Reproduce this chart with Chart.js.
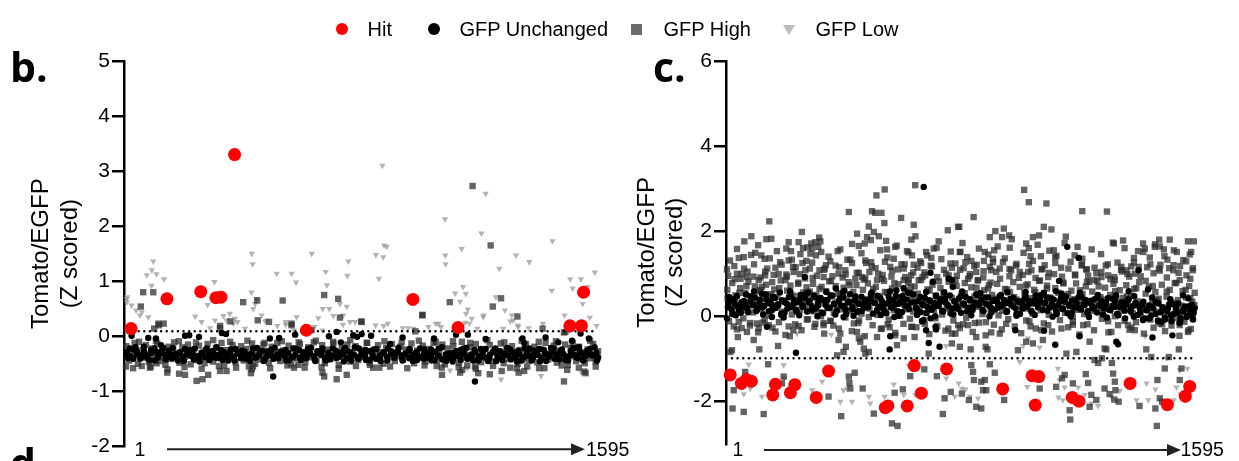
<!DOCTYPE html>
<html><head><meta charset="utf-8">
<script src="https://cdn.jsdelivr.net/npm/chart.js@4.4.1/dist/chart.umd.min.js"></script>
<style>
html,body{margin:0;padding:0;background:#fff;overflow:hidden;width:1239px;height:461px;}
#wrap{position:relative;width:1239px;height:461px;overflow:hidden;font-family:"Liberation Sans",Arial,sans-serif;color:#000;}
canvas{position:absolute;top:0;}
.lbl{position:absolute;font-family:"Open Sans",sans-serif;font-weight:700;font-size:41px;line-height:41px;}
.lg{position:absolute;font-size:20px;line-height:20px;top:19px;white-space:nowrap;}
.mk{position:absolute;}
.ax{position:absolute;font-size:19.5px;line-height:20px;top:438.5px;white-space:nowrap;}
svg{position:absolute;left:0;top:0;}
</style></head><body>
<div id="wrap">
<canvas id="cb" width="620" height="461" style="left:0px"></canvas>
<canvas id="cc" width="619" height="461" style="left:620px"></canvas>
<div class="lbl" style="left:10px;top:46px">b.</div>
<div class="lbl" style="left:653px;top:46px">c.</div>
<div class="lbl" style="left:10px;top:442px">d.</div>

<div class="mk" style="left:336px;top:23px;width:12px;height:12px;border-radius:50%;background:#ff0000"></div>
<div class="lg" style="left:367.5px">Hit</div>
<div class="mk" style="left:427.5px;top:23px;width:12px;height:12px;border-radius:50%;background:#000"></div>
<div class="lg" style="left:459.5px">GFP Unchanged</div>
<div class="mk" style="left:630.5px;top:24px;width:11px;height:11px;background:#6b6b6b"></div>
<div class="lg" style="left:663.5px">GFP High</div>
<div class="mk" style="left:782.5px;top:24.5px;width:0;height:0;border-left:6px solid transparent;border-right:6px solid transparent;border-top:10px solid #bdbdbd"></div>
<div class="lg" style="left:815.5px">GFP Low</div>

<div class="ax" style="left:134.5px" id="bFirst"></div>
<div class="ax" style="left:586px" id="bLast"></div>
<div class="ax" style="left:732.5px" id="cFirst"></div>
<div class="ax" style="left:1180.5px" id="cLast"></div>
<svg width="1239" height="461">
  <line x1="167" y1="449.3" x2="572" y2="449.3" stroke="#222" stroke-width="2"/>
  <polygon points="571,443.3 585,449.3 571,455.3" fill="#222"/>
  <line x1="764" y1="450" x2="1168" y2="450" stroke="#222" stroke-width="2"/>
  <polygon points="1167,444 1181,450 1167,456" fill="#222"/>
</svg>
</div>
<script>
// ---------- axis / tick labels ----------
const xFirst = 1, xLast = 1595;
const yTitle = ['Tomato/EGFP', '(Z scored)'];
const bTicks = [-2, -1, 0, 1, 2, 3, 4, 5];
const cTicks = [-2, 0, 2, 4, 6];
const bThreshold = 0.09;
const cThreshold = -0.99;

// ---------- panel b ----------
const bHit = [[18,0.14],[139,0.68],[253,0.81],[304,0.70],[321,0.71],[367,3.30],[609,0.11],[968,0.67],[1120,0.16],[1497,0.19],[1536,0.19],[1543,0.80]];

const bUnchanged = [
[20,0.01],[76,-0.03],[102,-0.04],[119,-0.16],[200,0.01],[214,0.02],[247,-0.01],[324,0.06],[338,0.04],[486,-0.04],[517,-0.03],[571,0.03],[685,0.00],[711,0.08],[725,-0.11],[739,-0.21],[767,0.02],[780,-0.01],[497,-0.73],[795,0.04],[827,0.01],[891,-0.14],[933,-0.02],[1039,-0.04],[1113,0.03],[1153,0.03],[1213,-0.05],[1337,-0.04],[1343,-0.12],[1415,-0.02],[1458,-0.11],[1504,-0.08],[1533,0.05],[1561,-0.04],[1527,-0.20],[1177,-0.82],
[4,-0.29],[15,-0.36],[27,-0.24],[38,-0.33],[49,-0.41],[62,-0.27],[71,-0.35],[85,-0.31],[97,-0.22],[108,-0.38],[119,-0.30],[133,-0.34],[146,-0.26],[157,-0.40],[170,-0.32],[182,-0.29],[193,-0.37],[207,-0.33],[219,-0.25],[230,-0.42],[243,-0.36],[255,-0.30],[266,-0.38],[280,-0.34],[291,-0.27],[303,-0.39],[316,-0.33],[327,-0.43],[339,-0.35],[352,-0.29],[364,-0.37],[376,-0.32],[389,-0.40],[401,-0.28],[412,-0.36],[425,-0.31],[437,-0.39],[450,-0.34],[461,-0.26],[474,-0.37],[486,-0.31],[498,-0.41],[511,-0.33],[523,-0.28],[536,-0.36],[548,-0.30],[559,-0.38],[572,-0.33],[585,-0.25],[597,-0.35],[609,-0.40],[621,-0.31],[634,-0.36],[646,-0.27],[658,-0.34],[671,-0.39],[683,-0.30],[696,-0.35],[708,-0.26],[720,-0.37],[733,-0.32],[745,-0.40],[757,-0.29],[770,-0.34],[782,-0.38],[795,-0.31],[807,-0.36],[819,-0.27],[832,-0.33],[844,-0.41],[857,-0.35],[869,-0.30],[881,-0.37],[894,-0.32],[906,-0.39],[918,-0.28],[931,-0.35],[943,-0.31],[956,-0.40],[968,-0.34],[980,-0.29],[993,-0.37],[1005,-0.32],[1018,-0.39],[1030,-0.35],[1042,-0.28],[1055,-0.36],[1067,-0.42],[1079,-0.33],[1092,-0.38],[1104,-0.30],[1117,-0.36],[1129,-0.25],[1141,-0.32],[1154,-0.40],[1166,-0.34],[1178,-0.29],[1191,-0.37],[1203,-0.31],[1216,-0.39],[1228,-0.33],[1240,-0.27],[1253,-0.36],[1265,-0.41],[1277,-0.31],[1290,-0.35],[1302,-0.28],[1315,-0.38],[1327,-0.33],[1339,-0.40],[1352,-0.30],[1364,-0.36],[1376,-0.26],[1389,-0.34],[1401,-0.39],[1414,-0.31],[1426,-0.37],[1438,-0.29],[1451,-0.35],[1463,-0.42],[1475,-0.32],[1488,-0.38],[1500,-0.27],[1513,-0.34],[1525,-0.40],[1537,-0.31],[1550,-0.36],[1562,-0.28],[1574,-0.35],[1586,-0.30],[1592,-0.38],
[9,-0.40],[33,-0.20],[56,-0.37],[80,-0.43],[103,-0.28],[127,-0.21],[151,-0.33],[176,-0.44],[200,-0.23],[225,-0.31],[249,-0.46],[273,-0.22],[297,-0.31],[322,-0.25],[346,-0.44],[370,-0.23],[395,-0.34],[419,-0.45],[443,-0.21],[468,-0.42],[492,-0.24],[516,-0.35],[541,-0.44],[565,-0.22],[590,-0.43],[614,-0.23],[639,-0.45],[663,-0.22],[688,-0.42],[712,-0.37],[737,-0.24],[761,-0.44],[786,-0.22],[810,-0.43],[835,-0.24],[859,-0.45],[884,-0.22],[908,-0.30],[933,-0.44],[957,-0.23],[982,-0.43],[1006,-0.24],[1031,-0.44],[1055,-0.22],[1080,-0.45],[1104,-0.40],[1129,-0.43],[1148,-0.21],[1172,-0.44],[1197,-0.23],[1221,-0.45],[1246,-0.22],[1270,-0.43],[1295,-0.24],[1319,-0.46],[1344,-0.22],[1368,-0.44],[1393,-0.23],[1417,-0.45],[1442,-0.22],[1466,-0.27],[1491,-0.44],[1515,-0.22],[1540,-0.43],[1564,-0.23],[1588,-0.44],
[2,-0.33],[14,-0.22],[26,-0.41],[37,-0.28],[50,-0.35],[61,-0.19],[74,-0.39],[86,-0.25],[98,-0.44],[110,-0.32],[122,-0.26],[135,-0.42],[147,-0.35],[159,-0.21],[171,-0.38],[184,-0.30],[196,-0.45],[208,-0.27],[220,-0.36],[233,-0.22],[245,-0.40],[257,-0.33],[269,-0.25],[282,-0.43],[294,-0.36],[306,-0.20],[318,-0.39],[331,-0.29],[343,-0.37],[355,-0.24],[367,-0.44],[380,-0.31],[392,-0.26],[404,-0.41],[416,-0.34],[429,-0.22],[441,-0.38],[453,-0.30],[465,-0.45],[478,-0.27],[490,-0.35],[502,-0.21],[514,-0.40],[527,-0.32],[539,-0.25],[551,-0.43],[563,-0.37],[576,-0.23],[588,-0.39],[600,-0.29],[612,-0.34],[625,-0.21],[637,-0.42],[649,-0.31],[661,-0.27],[674,-0.44],[686,-0.36],[698,-0.22],[710,-0.40],[723,-0.30],[735,-0.46],[747,-0.26],[759,-0.35],[772,-0.20],[784,-0.41],[796,-0.33],[808,-0.25],[821,-0.43],[833,-0.37],[845,-0.23],[857,-0.39],[870,-0.29],[882,-0.44],[894,-0.27],[906,-0.34],[919,-0.21],[931,-0.40],[943,-0.32],[955,-0.26],[968,-0.45],[980,-0.36],[992,-0.22],[1004,-0.41],[1017,-0.30],[1029,-0.24],[1041,-0.43],[1053,-0.35],[1066,-0.20],[1078,-0.38],[1090,-0.31],[1102,-0.46],[1115,-0.27],[1127,-0.36],[1139,-0.22],[1151,-0.41],[1164,-0.33],[1176,-0.25],[1188,-0.44],[1200,-0.37],[1213,-0.23],[1225,-0.40],[1237,-0.29],[1249,-0.45],[1262,-0.27],[1274,-0.35],[1286,-0.21],[1298,-0.42],[1311,-0.32],[1323,-0.26],[1335,-0.44],[1347,-0.36],[1360,-0.22],[1372,-0.39],[1384,-0.30],[1396,-0.46],[1409,-0.25],[1421,-0.34],[1433,-0.21],[1445,-0.41],[1458,-0.31],[1470,-0.24],[1482,-0.43],[1494,-0.36],[1507,-0.22],[1519,-0.38],[1531,-0.29],[1543,-0.44],[1556,-0.26],[1568,-0.33],[1580,-0.20],[1590,-0.41]
];

const bHigh = [
[59,0.80],[93,0.80],[51,0.54],[110,0.23],[396,0.62],[443,0.65],[529,0.65],[669,0.75],[716,0.68],[722,0.34],[795,0.26],[483,0.26],[559,0.20],[318,0.15],
[1,-0.55],[54,-0.54],[82,-0.57],[104,-0.49],[140,-0.66],[180,-0.68],[200,-0.70],[239,-0.81],[259,-0.78],[278,-0.70],[318,-0.63],[340,-0.63],[422,-0.67],[582,-0.52],[663,-0.66],[711,-0.78],[745,-0.70],
[1230,1.65],[1169,2.73],[1265,0.69],[1237,0.54],[1092,0.62],[1000,0.38],[1320,0.36],[1405,0.14],[1477,0.07],
[1127,-0.66],[1227,-0.69],[1324,-0.66],[1477,-0.82],[1550,-0.67],[1488,-0.61],[855,-0.57],[823,-0.52],[1188,-0.67],[1177,-0.55],[1318,-0.58],[1048,-0.54],
[415,-0.55],[425,-0.60],[567,-0.57],[669,-0.73],[1066,-0.70],[1134,-0.61],[1267,-0.63],[1343,-0.63],[1393,-0.58],[1546,-0.64],
[96,0.14],[112,0.20],[128,0.23],[318,0.19],[353,0.27],[445,0.29],[559,0.23],[626,0.11],[794,0.27],[976,0.09],[1000,0.39],[1482,0.08],
[2,-0.18],[12,-0.44],[21,-0.30],[30,-0.12],[41,-0.50],[50,-0.26],[59,-0.39],[68,-0.16],[78,-0.47],[88,-0.22],[97,-0.35],[106,-0.13],[116,-0.45],[125,-0.28],[134,-0.52],[144,-0.19],[153,-0.41],[163,-0.11],[172,-0.33],[181,-0.48],[191,-0.20],[200,-0.37],[210,-0.15],[219,-0.51],[228,-0.27],[238,-0.43],[247,-0.17],[257,-0.36],[266,-0.49],[276,-0.14],[285,-0.31],[294,-0.46],[304,-0.21],[313,-0.40],[323,-0.12],[332,-0.53],[341,-0.25],[351,-0.38],[360,-0.16],[370,-0.47],[379,-0.29],[389,-0.18],[398,-0.44],[407,-0.23],[417,-0.37],[426,-0.13],[436,-0.50],[445,-0.27],[455,-0.42],[464,-0.15],[473,-0.34],[483,-0.48],[492,-0.19],[502,-0.39],[511,-0.12],[521,-0.45],[530,-0.26],[539,-0.36],[549,-0.17],[558,-0.51],[568,-0.22],[577,-0.40],[587,-0.14],[596,-0.33],[605,-0.47],[615,-0.20],[624,-0.38],[634,-0.11],[643,-0.44],[652,-0.28],[662,-0.16],[671,-0.49],[681,-0.24],[690,-0.41],[700,-0.13],[709,-0.35],[718,-0.52],[728,-0.21],[737,-0.39],[747,-0.15],[756,-0.46],[765,-0.30],[775,-0.18],[784,-0.43],[794,-0.25],[803,-0.37],[812,-0.12],[822,-0.48],[831,-0.27],[841,-0.40],[850,-0.16],[859,-0.34],[869,-0.50],[878,-0.21],[888,-0.38],[897,-0.14],[907,-0.45],[916,-0.29],[925,-0.19],[935,-0.42],[944,-0.24],[954,-0.36],[963,-0.13],[972,-0.49],[982,-0.26],[991,-0.39],[1001,-0.17],[1010,-0.46],[1020,-0.23],[1029,-0.37],[1038,-0.12],[1048,-0.44],[1057,-0.28],[1067,-0.15],[1076,-0.51],[1085,-0.22],[1095,-0.40],[1104,-0.18],[1114,-0.35],[1123,-0.48],[1133,-0.10],[1142,-0.30],[1151,-0.53],[1161,-0.20],[1170,-0.42],[1180,-0.14],[1189,-0.37],[1198,-0.47],[1208,-0.24],[1217,-0.39],[1227,-0.16],[1236,-0.45],[1245,-0.27],[1255,-0.35],[1264,-0.13],[1274,-0.49],[1283,-0.22],[1293,-0.41],[1302,-0.18],[1311,-0.36],[1321,-0.50],[1330,-0.25],[1340,-0.38],[1349,-0.14],[1358,-0.44],[1368,-0.28],[1377,-0.19],[1387,-0.47],[1396,-0.23],[1405,-0.37],[1415,-0.12],[1424,-0.42],[1434,-0.30],[1443,-0.17],[1453,-0.48],[1462,-0.26],[1471,-0.39],[1481,-0.15],[1490,-0.52],[1500,-0.21],[1509,-0.36],[1518,-0.45],[1528,-0.19],[1537,-0.33],[1547,-0.49],[1556,-0.24],[1565,-0.40],[1575,-0.14],[1584,-0.46],[1592,-0.27],
[6,-0.36],[25,-0.58],[45,-0.10],[64,-0.33],[84,-0.55],[102,-0.08],[121,-0.38],[141,-0.60],[160,-0.24],[179,-0.09],[198,-0.56],[218,-0.34],[237,-0.11],[256,-0.59],[275,-0.29],[295,-0.07],[314,-0.54],[333,-0.37],[352,-0.10],[372,-0.57],[391,-0.31],[410,-0.08],[429,-0.55],[449,-0.35],[468,-0.12],[487,-0.58],[506,-0.28],[526,-0.09],[545,-0.53],[564,-0.39],[583,-0.11],[603,-0.57],[622,-0.32],[641,-0.08],[660,-0.56],[680,-0.36],[699,-0.10],[718,-0.59],[737,-0.30],[757,-0.07],[776,-0.54],[795,-0.38],[814,-0.12],[834,-0.57],[853,-0.29],[872,-0.09],[891,-0.55],[911,-0.35],[930,-0.11],[949,-0.58],[968,-0.31],[988,-0.08],[1007,-0.53],[1026,-0.37],[1045,-0.10],[1065,-0.57],[1084,-0.33],[1103,-0.09],[1122,-0.56],[1142,-0.36],[1161,-0.12],[1180,-0.59],[1199,-0.28],[1219,-0.07],[1238,-0.54],[1257,-0.39],[1276,-0.11],[1296,-0.57],[1315,-0.30],[1334,-0.08],[1353,-0.55],[1373,-0.35],[1392,-0.10],[1411,-0.58],[1430,-0.32],[1450,-0.09],[1469,-0.53],[1488,-0.37],[1507,-0.12],[1527,-0.57],[1546,-0.29],[1565,-0.08],[1584,-0.55]
];

const bLow = [
[93,1.36],[88,1.20],[104,1.13],[71,1.11],[129,1.04],[87,0.92],[3,0.68],[4,0.62],[5,0.71],[20,0.56],[35,0.47],[76,0.35],[48,0.38],[54,0.44],
[299,0.99],[276,0.57],[234,0.36],[256,0.26],[284,0.15],[301,0.29],[329,0.37],[351,0.41],[340,0.29],[363,0.23],[368,0.32],
[425,1.50],[428,1.31],[424,0.80],[436,0.59],[430,0.50],[441,0.68],[458,0.38],[475,0.29],
[509,1.14],[559,1.14],[574,0.98],[539,0.26],[576,0.35],[511,0.19],
[627,1.50],[674,1.17],[678,0.93],[664,0.50],[686,0.50],[649,0.33],[700,0.37],
[750,1.36],[747,1.10],[745,0.54],[722,0.59],[733,0.38],[756,0.26],
[871,1.65],[880,1.63],[843,1.48],[868,1.44],[853,1.05],[865,3.10],
[1132,1.59],[1078,1.31],[1077,1.47],[1076,2.13],[1213,2.59],[1199,1.87],[1259,1.23],[1315,1.47],[1360,1.35],[1438,1.73],[1581,1.16],
[1436,0.83],[1506,0.87],[1534,1.04],[1498,1.04],[1557,0.90],[1540,0.59],
[1137,0.90],[1110,0.78],[1146,0.77],[1127,0.63],[1153,0.49],[1147,0.41],[1166,0.32],[1158,0.23],[1133,0.20],
[1248,0.71],[1278,0.47],[1301,0.38],[1306,0.29],[1323,0.17],[1272,0.14],[1205,0.35],[1185,0.14],
[1054,0.23],[1020,0.17],[970,0.14],[934,0.15],[869,0.19],[1479,0.38],[1564,0.34],[1587,0.19],
[1265,-0.78],[1151,-0.58],[1536,-0.66],[1093,-0.62],[1400,-0.72],
[1045,0.23],[1062,0.17],[1117,0.19],[1144,0.25],[1206,0.38],[1296,0.27],[1321,0.20],[1358,0.15],[1406,0.23],
[377,0.26],[402,0.14],[470,0.27],[539,0.21],[567,0.11],[636,0.17],[663,0.11],[732,0.21],[773,0.26],[842,0.20],[883,0.23],[952,0.15]
];

// ---------- panel c ----------
const cHit = [[12,-1.38],[50,-1.58],[67,-1.49],[84,-1.53],[166,-1.60],[157,-1.85],[232,-1.61],[217,-1.80],[305,-1.91],[347,-1.29],[540,-2.15],[549,-2.11],[615,-2.11],[639,-1.16],[663,-1.81],[749,-1.24],[940,-1.71],[1040,-1.40],[1063,-1.42],[1051,-2.09],[1177,-1.91],[1200,-2.00],[1374,-1.58],[1501,-2.08],[1562,-1.88],[1577,-1.65]];

const cUnchanged = [
[671,3.04],[266,0.92],[372,0.65],[396,0.55],[603,0.66],[578,0.61],[694,1.02],[702,0.81],[756,0.88],[767,0.85],[770,0.69],
[1,-0.05],[137,-0.25],[154,-0.02],[194,-0.03],[398,-0.02],[450,0.12],[571,-0.02],[671,-0.09],[694,-0.05],[711,-0.25],
[1160,1.63],[1199,1.37],[1132,0.83],[1121,0.59],[1403,1.08],[1369,0.59],[1435,0.63],[1554,0.49],
[236,-0.86],[557,-0.47],[555,-0.78],[665,-0.11],[679,-0.33],[713,-0.31],[688,-0.63],[725,-0.72],
[983,-0.33],[1081,-0.34],[1119,-0.67],[1202,-0.47],[1327,-0.60],[1333,-0.66],[1450,-0.50],[1518,-0.45],
[4,0.21],[12,0.38],[19,0.05],[27,0.29],[35,0.47],[42,0.14],[50,0.33],[58,0.22],[66,0.51],[73,0.09],[81,0.36],[89,0.26],[96,0.44],[104,0.17],[112,0.31],[120,0.53],[127,0.24],[135,0.40],[143,0.12],[150,0.34],[158,0.46],[166,0.19],[174,0.28],[181,0.56],[189,0.37],[197,0.08],[204,0.30],[212,0.45],[220,0.21],[228,0.39],[235,0.15],[243,0.33],[251,0.50],[258,0.26],[266,0.42],[274,0.11],[282,0.35],[289,0.24],[297,0.48],[305,0.18],[312,0.31],[320,0.43],[328,0.07],[336,0.27],[343,0.38],[351,0.20],[359,0.49],[366,0.30],[374,0.13],[382,0.36],[390,0.25],[397,0.44],[405,0.16],[413,0.32],[420,0.52],[428,0.22],[436,0.37],[444,0.10],[451,0.29],[459,0.46],[467,0.19],[474,0.34],[482,0.27],[490,0.41],[498,0.06],[505,0.31],[513,0.48],[521,0.23],[528,0.36],[536,0.14],[544,0.30],[552,0.45],[559,0.21],[567,0.38],[575,0.28],[582,0.12],[590,0.34],[598,0.47],[606,0.25],[613,0.39],[621,0.17],[629,0.32],[636,0.51],[644,0.20],[652,0.35],[660,0.09],[667,0.28],[675,0.43],[683,0.22],[690,0.37],[698,0.15],[706,0.31],[714,0.46],[721,0.24],[729,0.40],[737,0.11],[744,0.33],[752,0.27],[760,0.49],[768,0.18],[775,0.35],[783,0.23],[791,0.42],[798,0.08],[806,0.30],[814,0.45],[822,0.20],[829,0.37],[837,0.14],[845,0.32],[852,0.50],[860,0.26],[868,0.39],[875,0.12],[883,0.29],[891,0.44],[899,0.21],[906,0.36],[914,0.16],[922,0.33],[929,0.47],[937,0.24],[945,0.38],[953,0.10],[960,0.31],[968,0.27],[976,0.43],[983,0.19],[991,0.34],[999,0.05],[1007,0.29],[1014,0.41],[1022,0.22],[1030,0.36],[1037,0.13],[1045,0.30],[1053,0.48],[1060,0.25],[1068,0.37],[1076,0.15],[1084,0.32],[1091,0.44],[1099,0.20],[1107,0.28],[1114,0.39],[1122,0.11],[1130,0.26],[1138,0.42],[1145,0.18],[1153,0.33],[1161,0.07],[1168,0.24],[1176,0.37],[1184,0.21],[1192,0.30],[1199,0.45],[1207,0.16],[1215,0.27],[1222,0.38],[1230,0.12],[1238,0.31],[1245,0.23],[1253,0.40],[1261,0.09],[1269,0.26],[1276,0.35],[1284,0.18],[1292,0.29],[1299,0.43],[1307,0.14],[1315,0.25],[1323,0.36],[1330,0.06],[1338,0.22],[1346,0.33],[1353,0.17],[1361,0.28],[1369,0.40],[1376,0.11],[1384,0.24],[1392,0.31],[1400,0.03],[1407,0.19],[1415,0.27],[1423,-0.06],[1430,0.14],[1438,0.25],[1446,0.02],[1453,0.18],[1461,0.33],[1469,-0.10],[1477,0.09],[1484,0.21],[1492,-0.03],[1500,0.12],[1507,0.28],[1515,-0.12],[1523,0.06],[1530,0.17],[1538,0.30],[1546,-0.04],[1554,0.11],[1561,0.23],[1569,0.01],[1577,0.15],[1584,0.27],[1590,0.08],[1594,0.19],
[8,0.45],[31,0.02],[62,0.27],[93,0.58],[124,0.04],[155,0.26],[186,0.03],[216,0.59],[247,0.02],[278,0.55],[309,0.00],[340,0.57],[370,0.04],[401,0.60],[432,0.01],[463,0.27],[494,0.56],[525,0.03],[556,0.58],[586,0.01],[617,0.55],[648,0.03],[679,0.57],[710,0.00],[741,0.56],[772,0.04],[802,0.58],[833,0.02],[864,0.54],[895,0.00],[926,0.27],[956,0.56],[987,0.01],[1018,0.57],[1049,0.03],[1080,0.55],[1110,-0.01],[1141,0.53],[1172,0.00],[1203,0.55],[1234,-0.02],[1264,0.50],[1295,-0.03],[1326,0.49],[1357,-0.05],[1388,0.47],[1418,-0.09],[1449,0.44],[1480,-0.13],[1511,0.40],[1542,-0.16],[1572,0.42],[1588,-0.08],
[6,0.30],[17,0.16],[28,0.41],[38,0.23],[48,0.08],[59,0.36],[70,0.19],[80,0.47],[91,0.27],[101,0.12],[112,0.39],[122,0.21],[133,0.52],[143,0.31],[154,0.14],[164,0.43],[175,0.25],[186,0.06],[196,0.35],[207,0.18],[217,0.48],[228,0.29],[238,0.11],[249,0.40],[259,0.22],[270,0.53],[280,0.33],[291,0.15],[302,0.44],[312,0.26],[323,0.09],[333,0.37],[344,0.20],[354,0.49],[365,0.28],[375,0.13],[386,0.42],[397,0.24],[407,0.05],[418,0.34],[428,0.17],[439,0.46],[449,0.30],[460,0.12],[470,0.39],[481,0.21],[491,0.51],[502,0.32],[512,0.14],[523,0.43],[534,0.25],[544,0.07],[555,0.36],[565,0.19],[576,0.48],[586,0.29],[597,0.10],[607,0.40],[618,0.23],[628,0.54],[639,0.33],[649,0.16],[660,0.45],[671,0.26],[681,0.08],[692,0.37],[702,0.20],[713,0.49],[723,0.31],[734,0.13],[744,0.42],[755,0.24],[765,0.06],[776,0.35],[786,0.18],[797,0.47],[808,0.28],[818,0.11],[829,0.40],[839,0.22],[850,0.52],[860,0.32],[871,0.15],[881,0.44],[892,0.26],[902,0.09],[913,0.38],[923,0.20],[934,0.50],[945,0.30],[955,0.12],[966,0.41],[976,0.23],[987,0.06],[997,0.35],[1008,0.18],[1018,0.47],[1029,0.28],[1039,0.10],[1050,0.39],[1060,0.21],[1071,0.50],[1082,0.31],[1092,0.13],[1103,0.42],[1113,0.24],[1124,0.05],[1134,0.34],[1145,0.17],[1155,0.45],[1166,0.27],[1176,0.09],[1187,0.37],[1197,0.19],[1208,0.46],[1219,0.26],[1229,0.08],[1240,0.36],[1250,0.18],[1261,0.43],[1271,0.24],[1282,0.04],[1292,0.32],[1303,0.15],[1313,0.41],[1324,0.22],[1334,0.02],[1345,0.30],[1356,0.13],[1366,0.38],[1377,0.19],[1387,-0.01],[1398,0.26],[1408,0.09],[1419,0.34],[1429,0.15],[1440,-0.05],[1450,0.22],[1461,0.05],[1471,0.30],[1482,0.11],[1493,-0.08],[1503,0.18],[1514,0.02],[1524,0.27],[1535,0.08],[1545,-0.11],[1556,0.16],[1566,-0.02],[1577,0.24],[1587,0.05]
];

const cHigh = [
[538,2.98],[510,2.84],[642,3.08],[416,2.45],[495,2.47],[506,2.43],[527,2.43],[594,2.31],[537,2.19],[637,2.15],[145,2.23],[84,1.88],[60,1.76],[135,1.81],[152,1.82],[256,1.98],[444,1.94],[484,2.11],[501,1.98],[518,1.88],[543,1.77],[546,1.57],[478,1.86],[470,1.71],[450,1.65],[574,1.63],[629,1.80],[753,2.02],[788,2.10],[722,1.76],[705,1.59],[679,1.51],[614,1.53],[631,1.43],[378,1.53],[288,1.71],[302,1.74],[319,1.76],[291,1.59],[312,1.63],[285,1.47],[304,1.43],[322,1.51],[245,1.74],[203,1.59],[219,1.53],[260,1.60],[41,1.37],[58,1.39],[97,1.49],[118,1.43],[129,1.35],[211,1.31],[222,1.33],[1,1.10],[35,1.00],[52,0.99],[69,0.92],[353,1.29],[421,1.33],[472,1.31],[492,1.27],[569,1.35],[557,1.16],[603,1.12],[637,1.21],[662,1.25],[697,1.37],[767,1.14],[796,1.51],[166,1.14],[131,0.96],[109,0.85],[120,0.69],[177,0.99],[200,0.85],[228,1.04],[258,1.25],[268,1.08],[283,1.12],[330,0.92],[334,1.12],[381,1.00],[404,1.08],[438,0.88],[461,0.92],[486,1.04],[512,0.85],[529,0.88],[608,0.92],[620,0.85],[654,0.85],[676,0.96],[756,0.96],[779,0.85],
[1013,2.97],[1029,2.68],[1089,2.65],[841,2.33],[1211,2.47],[1295,2.46],[944,2.06],[915,2.00],[962,1.90],[896,1.86],[938,1.86],[1080,2.10],[1106,2.04],[1064,1.90],[1043,1.86],[1020,1.71],[1029,1.60],[964,1.61],[911,1.55],[879,1.51],[907,1.35],[876,1.30],[794,1.51],[792,2.10],[813,1.27],[833,1.30],[1114,1.55],[1119,1.39],[1151,1.72],[1035,1.41],[1070,1.41],[1185,1.43],[1210,1.20],[1224,1.10],[1319,1.71],[1350,1.78],[1418,1.71],[1401,1.53],[1424,1.59],[1458,1.63],[1475,1.64],[1489,1.57],[1509,1.80],[1591,1.76],[1582,1.51],[1577,1.45],[1441,1.38],[1472,1.12],[1501,1.33],[1543,0.85],[1565,1.29],[1579,0.88],[1276,0.92],[1299,0.96],[1322,0.85],[1344,1.16],[1361,1.08],[1378,1.17],[1390,1.00],[1227,0.81],[1253,0.85],[901,1.08],[930,1.12],[969,1.08],[998,1.04],[1038,1.08],[1072,1.10],[1095,0.92],[822,0.88],[850,1.04],[856,0.85],[890,0.65],[1533,1.51],[1522,1.20],[1473,1.80],
[18,-0.80],[38,-0.49],[69,-0.37],[103,-0.17],[92,-0.56],[111,-0.78],[175,-0.70],[141,-1.13],[194,-1.42],[188,-1.58],[215,-0.47],[245,-0.23],[143,-0.21],[20,-2.17],[58,-2.25],[126,-2.30],[24,-1.74],[63,-1.31],[330,-0.21],[353,-0.11],[387,-0.41],[381,-0.56],[398,-0.84],[406,-0.72],[376,-0.92],[433,-0.17],[444,-0.37],[450,-0.52],[455,-0.60],[467,-0.76],[472,-0.88],[484,-0.84],[416,-1.42],[418,-1.57],[421,-1.70],[436,-1.33],[463,-1.70],[390,-2.35],[347,-1.89],[512,-0.49],[548,-0.19],[574,-0.45],[580,-0.68],[603,-0.52],[629,-0.25],[501,-2.29],[563,-2.52],[582,-2.58],[572,-1.80],[600,-1.72],[625,-1.41],[640,-0.49],[673,-1.25],[688,-0.88],[716,-1.41],[742,-1.93],[736,-2.30],[763,-1.78],[779,-0.41],[788,-0.21],[767,-0.64],[12,-0.84],
[794,-0.72],[831,-0.78],[850,-0.49],[882,-0.72],[888,-0.78],[896,-1.13],[833,-1.15],[839,-1.31],[842,-1.50],[867,-1.54],[879,-1.50],[913,-1.33],[884,-1.74],[873,-1.74],[825,-1.97],[850,-2.13],[867,-2.17],[801,-1.82],[992,-0.80],[1020,-0.60],[1043,-0.64],[1077,-0.56],[1066,-1.70],[945,-1.97],[1122,-1.66],[1142,-1.46],[1151,-1.38],[1157,-0.88],[1191,-0.84],[1179,-1.58],[1168,-2.21],[1170,-2.43],[1223,-1.36],[1231,-1.57],[1242,-1.85],[1259,-1.97],[1236,-2.13],[1253,-1.03],[1265,-1.10],[1278,-0.99],[1293,-0.78],[1312,-1.10],[1316,-1.35],[1322,-1.54],[1324,-1.74],[1287,-1.70],[1304,-1.83],[1320,-1.96],[1335,-2.01],[1406,-2.11],[1429,-0.78],[1446,-0.96],[1467,-1.50],[1460,-2.17],[1465,-2.58],[1475,-1.93],[1483,-2.01],[1492,-1.23],[1506,-0.96],[1543,-1.50],[1549,-1.23],[1540,-0.78],[1571,-0.37],
[805,-0.19],[822,-0.21],[845,-0.16],[901,-0.38],[930,-0.41],[952,-0.18],[1020,-0.10],[1072,-0.33],[1095,-0.21],[1140,-0.29],[1179,-0.13],[1214,-0.21],[1236,-0.60],[1287,-0.76],[1310,-0.37],[1367,-0.21],[1390,-0.33],[1424,-0.05],[1469,-0.13],[1514,-0.05],[1543,-0.21],[1573,-0.33],[1588,-0.05],
[24,-0.24],[41,-0.13],[80,-0.16],[109,-0.28],[166,-0.36],[211,-0.24],[273,-0.08],[302,-0.18],[330,-0.16],[484,-0.02],[529,-0.29],[631,-0.25],[711,-0.05],[767,-0.41],
[5,0.95],[26,1.18],[47,0.88],[71,1.05],[93,1.22],[115,0.91],[138,1.12],[160,0.97],[182,1.27],[205,0.93],[226,1.16],[249,0.99],[271,1.30],[293,0.90],[316,1.08],[338,1.20],[360,0.94],[383,1.15],[405,0.98],[427,1.25],[450,1.02],[472,0.89],[494,1.17],[516,1.00],[539,1.28],[561,0.93],[583,1.10],[606,1.22],[628,0.96],[650,1.14],[673,1.03],[695,1.19],[717,0.92],[740,1.09],[762,1.24],[784,0.95],[807,1.13],[829,0.99],[851,1.21],[874,0.91],[896,1.16],[918,1.04],[941,1.27],[963,0.94],[985,1.19],[1008,0.97],[1030,1.23],[1052,0.90],[1075,1.11],[1097,1.02],[1119,1.25],[1142,0.93],[1164,1.12],[1186,0.98],[1209,1.20],[1231,0.95],[1253,1.14],[1276,1.04],[1298,1.22],[1320,0.92],[1343,1.09],[1365,0.99],[1387,1.26],[1410,0.94],[1432,1.15],[1454,1.01],[1477,1.21],[1499,0.91],[1521,1.08],[1544,1.18],[1566,0.96],[1588,1.13],
[2,0.62],[8,-0.12],[13,0.35],[19,0.78],[24,0.05],[30,0.49],[35,-0.31],[41,0.27],[46,0.66],[52,0.14],[57,-0.05],[63,0.55],[68,0.31],[74,0.81],[79,-0.22],[85,0.43],[90,0.09],[96,0.70],[101,0.24],[107,-0.38],[112,0.58],[118,0.17],[123,0.40],[129,-0.09],[134,0.74],[140,0.30],[145,0.02],[151,0.52],[156,-0.27],[162,0.63],[167,0.20],[173,0.45],[178,-0.14],[184,0.84],[189,0.11],[195,0.37],[200,-0.44],[206,0.60],[211,0.26],[217,0.72],[222,0.04],[228,0.48],[233,-0.19],[239,0.33],[244,0.79],[250,0.15],[255,-0.33],[261,0.56],[266,0.22],[272,0.68],[277,-0.07],[283,0.41],[288,0.12],[294,0.76],[299,-0.25],[305,0.50],[310,0.28],[316,0.64],[321,0.00],[327,0.38],[332,-0.41],[338,0.59],[343,0.19],[349,0.82],[354,-0.11],[360,0.46],[365,0.08],[371,0.71],[376,0.25],[382,-0.29],[387,0.54],[393,0.16],[398,0.67],[404,-0.03],[409,0.42],[415,0.80],[420,0.13],[426,-0.35],[431,0.57],[437,0.23],[442,0.73],[448,-0.16],[453,0.36],[459,0.06],[464,0.62],[470,-0.47],[475,0.29],[481,0.77],[486,0.18],[492,0.51],[497,-0.21],[503,0.39],[508,0.69],[514,0.03],[519,0.47],[525,-0.30],[530,0.21],[536,0.83],[541,0.10],[547,0.55],[552,-0.08],[558,0.34],[563,0.65],[569,0.14],[574,-0.39],[580,0.44],[585,0.75],[591,0.01],[596,0.32],[602,-0.18],[607,0.60],[613,0.24],[618,0.79],[624,-0.06],[629,0.40],[635,0.11],[640,0.70],[646,-0.26],[651,0.53],[657,0.20],[662,0.85],[668,-0.13],[673,0.37],[679,0.07],[684,0.63],[690,-0.42],[695,0.31],[701,0.74],[706,0.15],[712,0.48],[717,-0.23],[723,0.27],[728,0.66],[734,0.04],[739,0.56],[745,-0.34],[750,0.19],[756,0.81],[761,0.09],[767,0.43],[772,-0.10],[778,0.35],[783,0.71],[789,0.17],[794,-0.28],[800,0.52],[805,0.25],[811,0.78],[816,-0.04],[822,0.38],[827,0.13],[833,0.68],[838,-0.37],[844,0.46],[849,0.22],[855,0.84],[860,-0.15],[866,0.33],[871,0.05],[877,0.61],[882,-0.45],[888,0.28],[893,0.73],[899,0.16],[904,0.50],[910,-0.20],[915,0.41],[921,0.76],[926,0.02],[932,0.45],[937,-0.31],[943,0.23],[948,0.64],[954,0.12],[959,-0.07],[965,0.57],[970,0.30],[976,0.80],[981,-0.24],[987,0.39],[992,0.10],[998,0.69],[1003,-0.40],[1009,0.26],[1014,0.54],[1020,0.18],[1025,0.75],[1031,-0.12],[1036,0.42],[1042,0.06],[1047,0.62],[1053,-0.29],[1058,0.34],[1064,0.83],[1069,0.14],[1075,0.49],[1080,-0.17],[1086,0.28],[1091,0.72],[1097,0.03],[1102,0.44],[1108,-0.36],[1113,0.21],[1119,0.66],[1124,0.11],[1130,0.55],[1135,-0.09],[1141,0.37],[1146,0.79],[1152,0.08],[1157,0.47],[1163,-0.26],[1168,0.24],[1174,0.60],[1179,-0.02],[1185,0.40],[1190,0.77],[1196,0.15],[1201,-0.43],[1207,0.31],[1212,0.52],[1218,0.05],[1223,0.70],[1229,-0.19],[1234,0.36],[1240,0.12],[1245,0.58],[1251,-0.33],[1256,0.27],[1262,0.82],[1267,0.09],[1273,0.45],[1278,-0.06],[1284,0.33],[1289,0.67],[1295,0.17],[1300,-0.38],[1306,0.50],[1311,0.22],[1317,0.76],[1322,0.00],[1328,0.39],[1333,-0.21],[1339,0.61],[1344,0.13],[1350,0.43],[1355,-0.11],[1361,0.73],[1366,0.26],[1372,-0.32],[1377,0.48],[1383,0.07],[1388,0.64],[1394,-0.14],[1399,0.35],[1405,0.80],[1410,0.04],[1416,0.29],[1421,-0.41],[1427,0.53],[1432,0.18],[1438,0.69],[1443,-0.08],[1449,0.32],[1454,-0.27],[1460,0.57],[1465,0.10],[1471,0.41],[1476,-0.17],[1482,0.74],[1487,0.20],[1493,-0.35],[1498,0.46],[1504,0.02],[1509,0.62],[1515,-0.22],[1520,0.30],[1526,0.78],[1531,-0.04],[1537,0.38],[1542,-0.46],[1548,0.25],[1553,0.59],[1559,-0.13],[1564,0.44],[1570,0.08],[1575,0.71],[1581,-0.30],[1586,0.34],[1591,0.12],[1594,0.55],
[3,0.42],[11,1.31],[19,0.18],[27,0.87],[35,1.58],[43,0.55],[51,-0.28],[59,1.12],[67,0.71],[75,0.26],[83,1.44],[91,0.93],[99,0.37],[107,1.67],[115,0.62],[123,-0.15],[131,1.05],[139,0.48],[147,1.36],[155,0.80],[163,0.21],[171,1.53],[179,0.66],[187,1.21],[195,0.33],[203,0.98],[211,1.74],[219,0.51],[227,-0.33],[235,1.15],[243,0.76],[251,1.46],[259,0.29],[267,0.89],[275,1.62],[283,0.58],[291,1.26],[299,0.12],[307,0.95],[315,1.85],[323,0.69],[331,1.09],[339,0.35],[347,1.40],[355,0.83],[363,-0.22],[371,1.19],[379,0.53],[387,1.57],[395,0.91],[403,0.24],[411,1.33],[419,0.73],[427,1.70],[435,0.46],[443,1.02],[451,-0.10],[459,1.48],[467,0.86],[475,1.25],[483,0.40],[491,1.79],[499,0.64],[507,1.13],[515,0.19],[523,1.55],[531,0.97],[539,0.57],[547,1.38],[555,-0.26],[563,1.07],[571,0.78],[579,1.66],[587,0.44],[595,1.22],[603,0.85],[611,0.16],[619,1.50],[627,0.68],[635,1.03],[643,1.88],[651,0.38],[659,1.29],[667,0.92],[675,-0.18],[683,1.43],[691,0.60],[699,1.17],[707,0.27],[715,1.61],[723,0.82],[731,1.34],[739,0.49],[747,1.00],[755,-0.29],[763,1.52],[771,0.74],[779,1.24],[787,0.31],[795,1.09],[803,1.72],[811,0.54],[819,1.39],[827,0.94],[835,0.22],[843,1.18],[851,0.67],[859,1.59],[867,0.43],[875,1.06],[883,-0.14],[891,1.45],[899,0.79],[907,1.27],[915,0.36],[923,1.64],[931,0.88],[939,0.13],[947,1.36],[955,0.63],[963,1.11],[971,1.81],[979,0.45],[987,1.23],[995,0.90],[1003,0.23],[1011,1.49],[1019,0.72],[1027,1.04],[1035,-0.24],[1043,1.30],[1051,0.56],[1059,1.68],[1067,0.84],[1075,0.30],[1083,1.20],[1091,0.65],[1099,1.54],[1107,0.41],[1115,0.99],[1123,1.42],[1131,0.17],[1139,1.14],[1147,0.77],[1155,1.87],[1163,0.52],[1171,1.28],[1179,-0.20],[1187,0.96],[1195,1.63],[1203,0.61],[1211,1.35],[1219,0.34],[1227,1.10],[1235,0.81],[1243,1.57],[1251,0.20],[1259,1.01],[1267,0.70],[1275,1.46],[1283,0.39],[1291,1.19],[1299,-0.12],[1307,0.87],[1315,1.73],[1323,0.59],[1331,1.26],[1339,0.28],[1347,1.05],[1355,1.60],[1363,0.47],[1371,0.93],[1379,-0.27],[1387,1.37],[1395,0.66],[1403,1.16],[1411,0.25],[1419,1.51],[1427,0.83],[1435,0.14],[1443,1.22],[1451,0.71],[1459,1.69],[1467,0.37],[1475,1.07],[1483,-0.19],[1491,1.41],[1499,0.58],[1507,1.13],[1515,0.32],[1523,1.55],[1531,0.78],[1539,1.02],[1547,0.11],[1555,1.32],[1563,0.62],[1571,1.76],[1579,0.43],[1587,1.08],[1593,0.26]
];

const cLow = [
[75,-1.13],[58,-1.83],[80,-1.70],[120,-1.89],[194,-1.15],[239,-0.41],[196,-1.46],[291,-1.74],[325,-1.54],[356,-0.43],[387,-2.01],[398,-1.74],[410,-1.70],[427,-2.01],[484,-1.89],[489,-2.05],[538,-1.89],[569,-1.60],[603,-1.85],[620,-1.17],[642,-1.85],[747,-0.70],[748,-1.46],[777,-1.89],[790,-1.58],[470,-0.47],
[1026,-0.52],[1009,-0.70],[1066,-0.73],[998,-1.07],[1024,-1.66],[801,-1.70],[813,-1.72],[856,-1.93],[828,-1.89],[1128,-1.23],[1134,-1.50],[1151,-1.67],[1130,-1.91],[1145,-1.97],[1197,-1.67],[1219,-1.85],[1242,-2.05],[1265,-2.11],[1339,-1.75],[1310,-1.89],[1396,-1.97],[1430,-1.58],[1436,-1.97],[1460,-1.72],[1426,-0.47],[1498,-0.99],[1532,-1.67],[1543,-1.27],[1569,-1.23],[1546,-1.83],[1523,-1.97],[1560,-1.97]
];

function pts(a) { return a.map(p => ({ x: p[0], y: p[1] })); }
const FONT = '"Liberation Sans", Arial, Helvetica, sans-serif';

function makeChart(id, s) {
  return new Chart(document.getElementById(id), {
    type: 'scatter',
    data: { datasets: [
      { label: 'Hit', data: pts(s.hit), pointStyle: 'circle', pointRadius: 6.5, backgroundColor: '#ff0000', borderWidth: 0 },
      { label: 'Threshold', type: 'line', data: [{ x: s.thrFrom, y: s.thr }, { x: s.thrTo, y: s.thr }],
        borderColor: '#000', borderWidth: 2.5, borderDash: [0, 5.6], borderCapStyle: 'round', pointRadius: 0, fill: false },
      { label: 'GFP Unchanged', data: pts(s.unch), pointStyle: 'circle', pointRadius: 3.2, backgroundColor: '#000', borderWidth: 0 },
      { label: 'GFP High', data: pts(s.high), pointStyle: 'rect', pointRadius: 4.5, backgroundColor: 'rgba(45,45,45,0.74)', borderWidth: 0 },
      { label: 'GFP Low', data: pts(s.low), pointStyle: 'triangle', pointRotation: 180, pointRadius: 3.7, backgroundColor: 'rgba(150,150,150,0.72)', borderWidth: 0 }
    ] },
    options: {
      responsive: false, animation: false, devicePixelRatio: 1, events: [],
      layout: { padding: s.pad },
      plugins: { legend: { display: false }, tooltip: { enabled: false } },
      datasets: { scatter: { clip: false }, line: { clip: false } },
      scales: {
        x: { type: 'linear', display: false, min: s.xmin, max: s.xmax },
        y: {
          type: 'linear', min: s.ymin, max: s.ymax,
          afterBuildTicks: sc => { sc.ticks = s.ticks.map(v => ({ value: v })); },
          afterFit: sc => { sc.width = s.axisW; },
          ticks: { color: '#000', font: { family: FONT, size: 21 }, padding: 2 },
          grid: { drawOnChartArea: false, drawTicks: true, tickLength: 12, tickColor: '#000', tickWidth: 2.5, color: '#000', lineWidth: 2.5 },
          border: { display: true, color: '#000', width: 2.5 },
          title: { display: true, text: yTitle, color: '#000', font: { family: FONT, size: 24, lineHeight: 1.2 }, padding: { top: s.titlePad, bottom: 0 } }
        }
      }
    }
  });
}

makeChart('cb', { hit: bHit, unch: bUnchanged, high: bHigh, low: bLow, thr: bThreshold, thrFrom: 25, thrTo: 1575,
  xmin: -5.7, xmax: 1598.4, ymin: -2, ymax: 5, ticks: bTicks, axisW: 124, titlePad: 27,
  pad: { top: 61, bottom: 12.6, left: 0, right: 20 } });
makeChart('cc', { hit: cHit, unch: cUnchanged, high: cHigh, low: cLow, thr: cThreshold, thrFrom: 18, thrTo: 1588,
  xmin: -2.4, xmax: 1601.8, ymin: -3, ymax: 6, ticks: cTicks, axisW: 106, titlePad: 12.5,
  pad: { top: 61, bottom: 17.2, left: 0, right: 42 } });

document.getElementById('bFirst').textContent = xFirst;
document.getElementById('cFirst').textContent = xFirst;
document.getElementById('bLast').textContent = xLast;
document.getElementById('cLast').textContent = xLast;
</script>
</body></html>
